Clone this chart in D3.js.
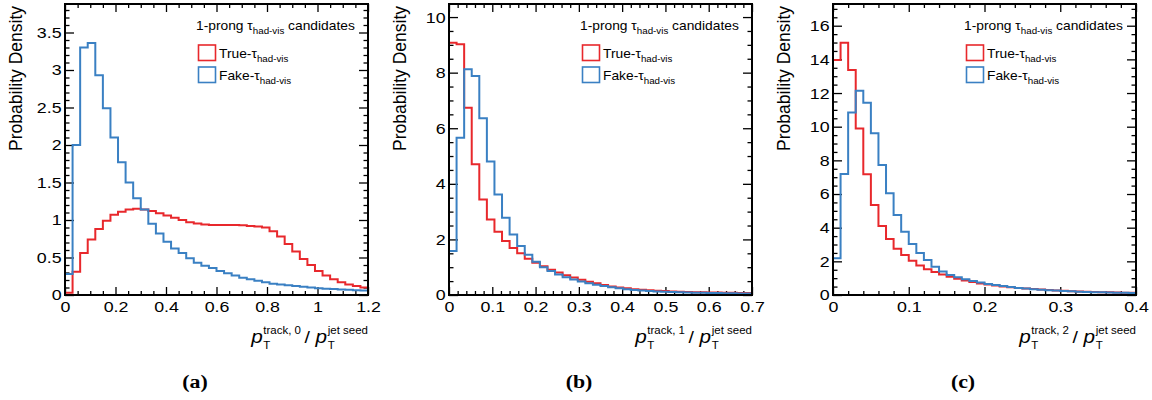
<!DOCTYPE html>
<html>
<head>
<meta charset="utf-8">
<script src="https://cdn.jsdelivr.net/npm/d3@7"></script>
<style>
  body { margin: 0; background: #fff; }
  text { font-family: "Liberation Sans", Arial, Helvetica, sans-serif; }
</style>
</head>
<body>
<div id="chart"></div>
<script>
// histogram contents (40 bins per panel)
const xRangeA = [0, 1.2];
const trueA = [0.03, 0.31, 0.56, 0.74, 0.88, 0.99, 1.07, 1.11, 1.14, 1.15,
  1.14, 1.12, 1.09, 1.06, 1.03, 1.00, 0.97, 0.955, 0.94, 0.935,
  0.935, 0.935, 0.935, 0.93, 0.92, 0.915, 0.90, 0.85, 0.78, 0.68,
  0.58, 0.48, 0.40, 0.32, 0.26, 0.21, 0.17, 0.14, 0.12, 0.10];
const fakeA = [0.28, 2.00, 3.30, 3.36, 2.93, 2.49, 2.10, 1.77, 1.50, 1.29,
  1.14, 0.95, 0.82, 0.71, 0.62, 0.56, 0.49, 0.43, 0.39, 0.36,
  0.32, 0.29, 0.26, 0.23, 0.21, 0.19, 0.17, 0.15, 0.14, 0.13,
  0.12, 0.11, 0.10, 0.09, 0.085, 0.08, 0.075, 0.07, 0.065, 0.06];

const xRangeB = [0, 0.7];
const trueB = [9.08, 9.02, 6.74, 4.70, 3.44, 2.72, 2.28, 1.94, 1.69, 1.50,
  1.30, 1.16, 1.03, 0.91, 0.81, 0.71, 0.63, 0.55, 0.48, 0.42,
  0.36, 0.31, 0.27, 0.24, 0.21, 0.19, 0.17, 0.15, 0.14, 0.13,
  0.12, 0.11, 0.10, 0.10, 0.09, 0.09, 0.08, 0.08, 0.07, 0.07];
const fakeB = [1.58, 5.66, 8.12, 7.88, 6.36, 4.80, 3.62, 2.78, 2.18, 1.76,
  1.45, 1.20, 1.00, 0.86, 0.74, 0.64, 0.56, 0.49, 0.42, 0.37,
  0.32, 0.28, 0.24, 0.21, 0.18, 0.16, 0.14, 0.13, 0.12, 0.11,
  0.10, 0.09, 0.08, 0.08, 0.07, 0.07, 0.06, 0.06, 0.05, 0.05];

const xRangeC = [0, 0.4];
const trueC = [13.96, 14.99, 13.37, 9.90, 7.17, 5.35, 4.10, 3.32, 2.75, 2.37,
  2.04, 1.76, 1.53, 1.36, 1.22, 1.08, 0.96, 0.86, 0.77, 0.69,
  0.62, 0.56, 0.51, 0.46, 0.42, 0.38, 0.35, 0.32, 0.29, 0.27,
  0.25, 0.23, 0.21, 0.19, 0.18, 0.17, 0.16, 0.15, 0.14, 0.13];
const fakeC = [2.18, 7.19, 10.85, 12.14, 11.43, 9.61, 7.72, 6.04, 4.75, 3.76,
  3.03, 2.50, 2.08, 1.68, 1.40, 1.19, 1.05, 0.93, 0.83, 0.74,
  0.66, 0.59, 0.53, 0.47, 0.42, 0.38, 0.34, 0.31, 0.28, 0.26,
  0.24, 0.22, 0.20, 0.18, 0.17, 0.16, 0.15, 0.14, 0.13, 0.12];

// y-axis upper limits and tick steps
const yMax = [3.88, 10.47, 17.29];
const yMajor = [0.5, 2, 2];
const yMinor = [0.1, 0.5, 0.5];
const xMajor = [0.2, 0.1, 0.1];
const xMinor = [0.05, 0.02, 0.02];
const trackIndex = ["0", "1", "2"];
const panelLabels = ["(a)", "(b)", "(c)"];
const seriesNames = ["True-\u03c4", "Fake-\u03c4"];

const panels = [
  { range: xRangeA, tru: trueA, fake: fakeA },
  { range: xRangeB, tru: trueB, fake: fakeB },
  { range: xRangeC, tru: trueC, fake: fakeC }
];

const width = 1152, height = 400;
const panelW = 384;
const margin = { left: 65, right: 16, top: 4, bottom: 105 };
const plotW = panelW - margin.left - margin.right;
const plotH = height - margin.top - margin.bottom;
const sx = 1.15; // text in the figure is slightly stretched horizontally
const red = "#e8282c", blue = "#3a80c3";

const svg = d3.select("#chart").append("svg").attr("width", width).attr("height", height)
  .style("background", "#fff");

const fmt = d => String(+d.toFixed(3));
const ticks = (max, step) => d3.range(0, max + step * 1e-3, step).map(v => +v.toFixed(4));

panels.forEach((p, i) => {
  const ox = i * panelW;
  const g = svg.append("g").attr("transform", `translate(${ox + margin.left},${margin.top})`);

  const x = d3.scaleLinear().domain(p.range).range([0, plotW]);
  const y = d3.scaleLinear().domain([0, yMax[i]]).range([plotH, 0]);

  const xMaj = ticks(p.range[1], xMajor[i]);
  const xMin = ticks(p.range[1], xMinor[i]).filter(v => !xMaj.some(m => Math.abs(m - v) < 1e-6));
  const yMaj = ticks(yMax[i], yMajor[i]);
  const yMin = ticks(yMax[i], yMinor[i]).filter(v => !yMaj.some(m => Math.abs(m - v) < 1e-6));

  //Ticks on all four sides, pointing inward
  const axes = [
    [d3.axisBottom(x).tickValues(xMaj).tickSize(-8).tickPadding(6).tickFormat(fmt), `translate(0,${plotH})`],
    [d3.axisBottom(x).tickValues(xMin).tickSize(-4).tickFormat(""), `translate(0,${plotH})`],
    [d3.axisTop(x).tickValues(xMaj).tickSize(-8).tickFormat(""), "translate(0,0)"],
    [d3.axisTop(x).tickValues(xMin).tickSize(-4).tickFormat(""), "translate(0,0)"],
    [d3.axisLeft(y).tickValues(yMaj).tickSize(-9).tickPadding(3).tickFormat(fmt), "translate(0,0)"],
    [d3.axisLeft(y).tickValues(yMin).tickSize(-4.5).tickFormat(""), "translate(0,0)"],
    [d3.axisRight(y).tickValues(yMaj).tickSize(-9).tickFormat(""), `translate(${plotW},0)`],
    [d3.axisRight(y).tickValues(yMin).tickSize(-4.5).tickFormat(""), `translate(${plotW},0)`]
  ];
  axes.forEach(([ax, tr]) => {
    const a = g.append("g").attr("transform", tr).call(ax);
    a.select(".domain").remove();
    a.selectAll("line").attr("stroke", "#000").attr("stroke-width", 1.3);
    a.selectAll("text").attr("fill", "#000").style("font-size", "15.5px")
      .style("font-family", '"Liberation Sans", Arial, sans-serif')
      .attr("transform", `scale(${sx},1)`);
  });

  //Histograms as step lines
  const nb = p.tru.length;
  const bw = (p.range[1] - p.range[0]) / nb;
  const stepLine = d3.line().x(d => x(d[0])).y(d => y(d[1])).curve(d3.curveStepAfter);
  [[p.tru, red], [p.fake, blue]].forEach(([vals, col]) => {
    const pts = vals.map((v, k) => [p.range[0] + k * bw, v]);
    pts.push([p.range[1], vals[nb - 1]]);
    g.append("path").datum(pts).attr("d", stepLine)
      .attr("fill", "none").attr("stroke", col).attr("stroke-width", 2);
  });

  //Frame
  g.append("rect").attr("width", plotW).attr("height", plotH)
    .attr("fill", "none").attr("stroke", "#000").attr("stroke-width", 2);

  //Header and legend
  const hdr = svg.append("text").attr("transform", `translate(${ox + 196},30) scale(${sx},1)`)
    .style("font-size", "12px");
  hdr.append("tspan").text("1-prong \u03c4");
  hdr.append("tspan").attr("dy", 4).style("font-size", "8.5px").text("had-vis");
  hdr.append("tspan").attr("dy", -4).text(" candidates");

  [red, blue].forEach((col, k) => {
    const ly = 45 + k * 22;
    svg.append("rect").attr("x", ox + 198.5).attr("y", ly).attr("width", 17).attr("height", 15.5)
      .attr("fill", "none").attr("stroke", col).attr("stroke-width", 1.6);
    const t = svg.append("text").attr("transform", `translate(${ox + 219},${ly + 12.5}) scale(${sx},1)`)
      .style("font-size", "12px");
    t.append("tspan").text(seriesNames[k]);
    t.append("tspan").attr("dy", 4.5).style("font-size", "8.5px").text("had-vis");
  });

  //Y title
  svg.append("text").attr("transform", `translate(${ox + 22},6) rotate(-90)`)
    .attr("text-anchor", "end").style("font-size", "17.5px").text("Probability Density");

  //X title: p_T^{track, i} / p_T^{jet seed}, right aligned to the frame
  const xt = svg.append("g");
  let cur = 0;
  const piece = (txt, size, base, italic) => {
    const t = xt.append("text").attr("x", cur).attr("y", base).style("font-size", size + "px")
      .style("font-style", italic ? "italic" : "normal").text(txt);
    return t.node().getComputedTextLength();
  };
  const pw = piece("p", 18, 343, true);
  cur += pw + 0.5;
  const s1 = piece("track, " + trackIndex[i], 10, 334, false);
  piece("T", 10, 349, false);
  cur += s1 + 3;
  const sl = piece("/", 17, 343, false);
  cur += sl + 5;
  const pw2 = piece("p", 18, 343, true);
  cur += pw2 + 0.5;
  const s2 = piece("jet seed", 10, 334, false);
  piece("T", 10, 349, false);
  cur += s2;
  xt.attr("transform", `translate(${ox + margin.left + plotW - cur * sx},0) scale(${sx},1)`);

  //Panel label
  svg.append("text").attr("transform", `translate(${ox + 195},388) scale(${sx},1)`)
    .attr("text-anchor", "middle")
    .style("font-family", '"Liberation Serif", "Times New Roman", serif')
    .style("font-weight", "bold").style("font-size", "19px").text(panelLabels[i]);
});
</script>
</body>
</html>
